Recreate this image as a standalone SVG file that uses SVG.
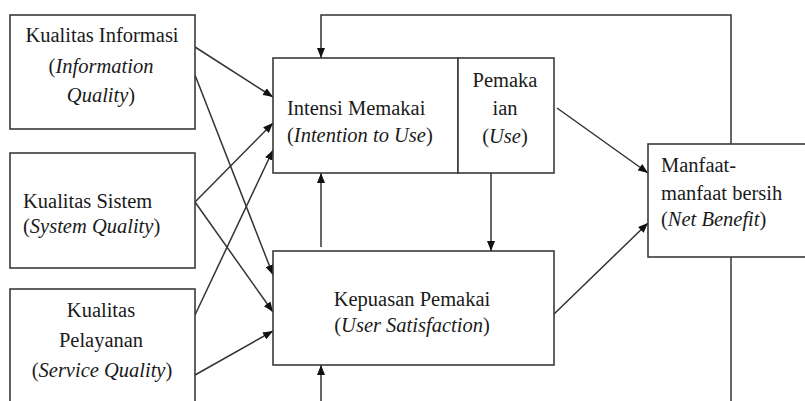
<svg xmlns="http://www.w3.org/2000/svg" width="805" height="401" viewBox="0 0 805 401">
<style>
.box{fill:#fff;stroke:#3a3a3a;stroke-width:1.6}
.ln{fill:none;stroke:#333;stroke-width:1.5}
text{font-family:"Liberation Serif","Times New Roman",serif;font-size:20.5px;fill:#1a1a1a}
.c{text-anchor:middle}
.i{font-style:italic}
</style>
<defs>
<marker id="ah" viewBox="0 0 10 8" refX="10" refY="4" markerWidth="10" markerHeight="8" markerUnits="userSpaceOnUse" orient="auto">
<path d="M0,0 L10,4 L0,8 Z" fill="#111"/>
</marker>
</defs>
<rect width="805" height="401" fill="#fff"/>
<g id="connectors" class="conn">
<line class="ln" x1="195" y1="47" x2="273" y2="97" marker-end="url(#ah)"/>
<line class="ln" x1="195" y1="75" x2="273" y2="275" marker-end="url(#ah)"/>
<line class="ln" x1="195" y1="202" x2="273" y2="123" marker-end="url(#ah)"/>
<line class="ln" x1="195" y1="202" x2="273" y2="312" marker-end="url(#ah)"/>
<line class="ln" x1="195" y1="315" x2="273" y2="150" marker-end="url(#ah)"/>
<line class="ln" x1="195" y1="375" x2="273" y2="331" marker-end="url(#ah)"/>
<line class="ln" x1="321" y1="247" x2="321" y2="173" marker-end="url(#ah)"/>
<line class="ln" x1="491" y1="173" x2="491" y2="251" marker-end="url(#ah)"/>
<line class="ln" x1="557" y1="108" x2="648" y2="173" marker-end="url(#ah)"/>
<line class="ln" x1="553" y1="315" x2="648" y2="223" marker-end="url(#ah)"/>
<polyline class="ln" points="731,144 731,15 321,15 321,58" marker-end="url(#ah)"/>
<line class="ln" x1="731" y1="257" x2="731" y2="405"/>
<line class="ln" x1="321" y1="405" x2="321" y2="365" marker-end="url(#ah)"/>
</g>
<g id="kualitas-informasi">
<rect class="box" x="10" y="15" width="185" height="114"/>
<text class="c" x="102" y="42">Kualitas Informasi</text>
<text class="c" x="101" y="72.5">(<tspan class="i">Information</tspan></text>
<text class="c" x="101" y="102"><tspan class="i">Quality</tspan>)</text>
</g>
<g id="kualitas-sistem">
<rect class="box" x="10" y="153" width="185" height="115"/>
<text x="23" y="208">Kualitas Sistem</text>
<text x="23" y="232.5">(<tspan class="i">System Quality</tspan>)</text>
</g>
<g id="kualitas-pelayanan">
<rect class="box" x="10" y="289" width="185" height="130"/>
<text class="c" x="101" y="316.5">Kualitas</text>
<text class="c" x="101" y="346.5">Pelayanan</text>
<text class="c" x="102" y="376.5">(<tspan class="i">Service Quality</tspan>)</text>
</g>
<g id="intensi-memakai">
<rect class="box" x="273" y="58" width="185" height="115"/>
<text x="287" y="115">Intensi Memakai</text>
<text x="287" y="141.5">(<tspan class="i">Intention to Use</tspan>)</text>
</g>
<g id="pemakaian">
<rect class="box" x="458" y="58" width="96" height="115"/>
<text class="c" x="505" y="86.5">Pemaka</text>
<text class="c" x="505" y="115">ian</text>
<text class="c" x="505" y="143">(<tspan class="i">Use</tspan>)</text>
</g>
<g id="kepuasan-pemakai">
<rect class="box" x="273" y="251" width="281" height="114"/>
<text class="c" x="412" y="306">Kepuasan Pemakai</text>
<text class="c" x="412" y="331.5">(<tspan class="i">User Satisfaction</tspan>)</text>
</g>
<g id="manfaat-bersih">
<rect class="box" x="648" y="144" width="170" height="113"/>
<text x="661" y="172">Manfaat-</text>
<text x="661" y="200">manfaat bersih</text>
<text x="661" y="226">(<tspan class="i">Net Benefit</tspan>)</text>
</g>
</svg>
